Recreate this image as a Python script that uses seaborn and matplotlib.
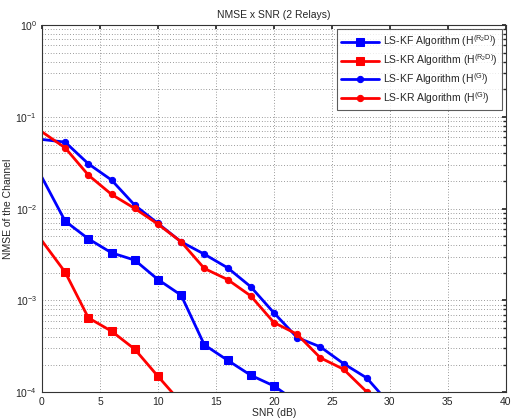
import numpy as np
import pandas as pd
import matplotlib
matplotlib.use("Agg")
import matplotlib.pyplot as plt
import seaborn as sns

# SNR grid (dB)
snr = [0, 2, 4, 6, 8, 10, 12, 14, 16, 18, 20, 22, 24, 26, 28, 30]

# NMSE values
kf_r2d = [0.0219, 0.00731, 0.00469, 0.0033, 0.00275, 0.00169, 0.00114,
          0.000328, 0.000223, 0.000153, 0.000117, 7.8e-5]
kr_r2d = [0.00446, 0.00203, 0.000646, 0.000462, 0.000294, 0.000149, 7.7e-5]
kf_g = [0.0568, 0.0531, 0.0308, 0.0205, 0.0109, 0.0069, 0.00435, 0.00319,
        0.00227, 0.00141, 0.000732, 0.000394, 0.000312, 0.000205, 0.000143, 7.4e-5]
kr_g = [0.0687, 0.046, 0.0232, 0.0143, 0.01005, 0.00678, 0.00435, 0.00223,
        0.00169, 0.00112, 0.000574, 0.000428, 0.000237, 0.000178, 0.000101, 5.8e-5]

labels = [r"LS-KF Algorithm ($\mathrm{H^{(R_2D)}}$)",
          r"LS-KR Algorithm ($\mathrm{H^{(R_2D)}}$)",
          r"LS-KF Algorithm ($\mathrm{H^{(G)}}$)",
          r"LS-KR Algorithm ($\mathrm{H^{(G)}}$)"]
series = [kf_r2d, kr_r2d, kf_g, kr_g]
colors = ["#0000ff", "#ff0000", "#0000ff", "#ff0000"]
markers = ["s", "s", "o", "o"]
msizes = [5.5, 5.5, 4.5, 4.5]

sns.set_theme(style="white")
plt.rcParams["font.family"] = ["Liberation Sans", "DejaVu Sans"]
plt.rcParams["mathtext.fontset"] = "custom"
plt.rcParams["mathtext.rm"] = "Liberation Sans"
plt.rcParams["mathtext.it"] = "Liberation Sans:italic"

fig = plt.figure(figsize=(5.12, 4.19), dpi=100)
ax = fig.add_axes([0.082, 0.064, 0.906, 0.876])

for vals, lab, c, m, ms in zip(series, labels, colors, markers, msizes):
    d = pd.DataFrame({"snr": snr[:len(vals)], "nmse": vals})
    sns.lineplot(data=d, x="snr", y="nmse", ax=ax, color=c, marker=m,
                 markersize=ms, markeredgecolor=c, linewidth=2, label=lab,
                 markevery=list(range(1, len(vals))))

ax.set_yscale("log")
ax.set_xlim(0, 40)
ax.set_ylim(1e-4, 1)
ax.set_xticks([0, 5, 10, 15, 20, 25, 30, 35, 40])
ax.grid(True, which="major", axis="both", color="0.25", linestyle=(0, (1, 3)), linewidth=0.5)
ax.grid(True, which="minor", axis="y", color="0.25", linestyle=(0, (1, 3)), linewidth=0.5)
ax.tick_params(which="both", direction="in", labelsize=7.5, top=True, right=True,
               colors="0.15", length=3)
ax.tick_params(which="minor", length=2)
for s in ax.spines.values():
    s.set_color("0.2")
    s.set_linewidth(0.8)

ax.set_xlabel("SNR (dB)", fontsize=7.5, labelpad=1)
ax.set_ylabel("NMSE of the Channel", fontsize=7.5, labelpad=2)
ax.set_title("NMSE x SNR (2 Relays)", fontsize=7.5, pad=5)

leg = ax.legend(loc="upper right", fontsize=7.5, handlelength=3.6, frameon=True,
                fancybox=False, edgecolor="0.2", borderaxespad=0.4,
                labelspacing=0.3, handletextpad=0.4, borderpad=0.4)
leg.get_frame().set_linewidth(0.8)

fig.savefig("out.png", dpi=100)
